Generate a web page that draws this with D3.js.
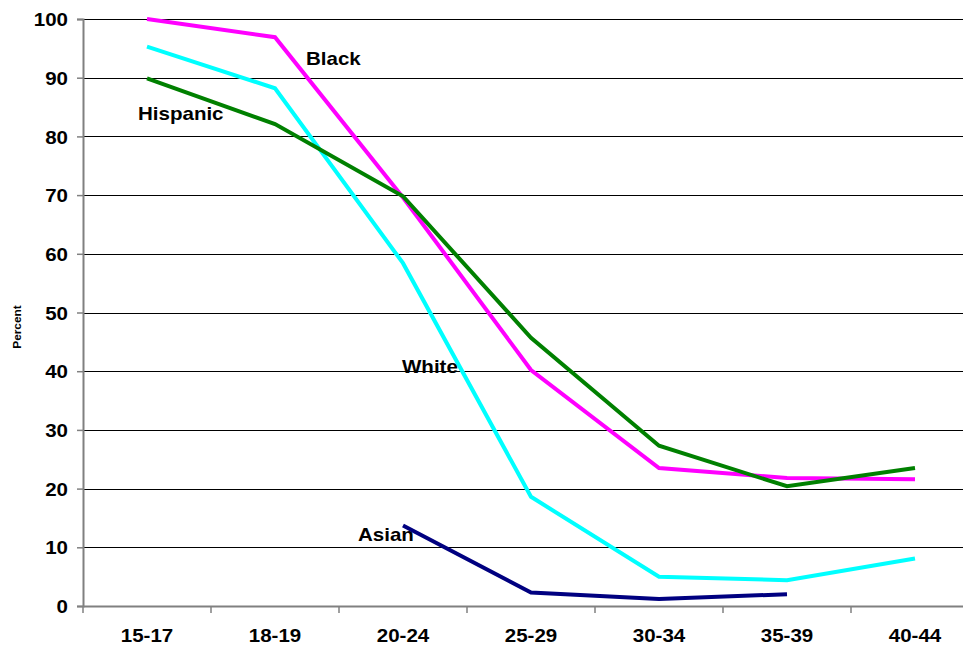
<!DOCTYPE html>
<html>
<head>
<meta charset="utf-8">
<script src="https://cdn.jsdelivr.net/npm/d3@7"></script>
<style>
  html, body { margin: 0; padding: 0; background: #fff; overflow: hidden; }
  svg { display: block; }
  text { font-family: "Liberation Sans", Arial, sans-serif; font-weight: bold; fill: #000; }
</style>
</head>
<body>
<div id="chart"></div>
<script>
const categories = ["15-17", "18-19", "20-24", "25-29", "30-34", "35-39", "40-44"];
const yTicks = [0, 10, 20, 30, 40, 50, 60, 70, 80, 90, 100];
const blackValues = [100, 96.9, 69.6, 40.2, 23.5, 21.8, 21.6];
const hispanicValues = [89.9, 82.1, 69.8, 45.7, 27.3, 20.4, 23.5];
const whiteValues = [95.3, 88.2, 58.4, 18.6, 5.0, 4.4, 8.1];
const asianValues = [null, null, 13.7, 2.3, 1.2, 2.0, null];

const seriesNames = ["Black", "Hispanic", "White", "Asian"];
const seriesColors = ["#FF00FF", "#008000", "#00FFFF", "#000080"];
const seriesValues = [blackValues, hispanicValues, whiteValues, asianValues];
const seriesLabelAt = [
  {cat: "18-19", dx: 31, val: 93.3},
  {cat: "15-17", dx: -9, val: 84.0},
  {cat: "20-24", dx: -1, val: 40.8},
  {cat: "20-24", dx: -45, val: 12.2}
];
const drawOrder = [2, 0, 1, 3];

const W = 963, H = 650;
const mLeft = 83, mTop = 19, plotW = 896, mBottom = 606;

const svg = d3.select("#chart").append("svg").attr("width", W).attr("height", H);

const x = d3.scaleBand().domain(categories).range([mLeft, mLeft + plotW]);
const y = d3.scaleLinear().domain([0, 100]).range([mBottom, mTop]);

// gridlines
svg.append("g").selectAll("line").data(yTicks.filter(d => d > 0)).join("line")
  .attr("x1", mLeft).attr("x2", W)
  .attr("y1", d => Math.round(y(d)) + 0.5).attr("y2", d => Math.round(y(d)) + 0.5)
  .attr("stroke", "#000").attr("stroke-width", 1);

// y axis
const yAxis = d3.axisLeft(y).tickValues(yTicks).tickSize(6).tickPadding(9);
const gy = svg.append("g").attr("transform", `translate(${mLeft},0)`).call(yAxis);
gy.select(".domain").attr("stroke", "#808080").attr("stroke-width", 2);
gy.selectAll(".tick line").attr("stroke", "#808080").attr("stroke-width", 1.5);
gy.selectAll(".tick text").style("font-size", "19px").attr("dy", "0.35em");

// x axis
const xAxis = d3.axisBottom(x).tickSize(0).tickPadding(23);
const gx = svg.append("g").attr("transform", `translate(0,${mBottom})`).call(xAxis);
gx.select(".domain").attr("stroke", "#808080").attr("stroke-width", 2);
gx.selectAll(".tick text").style("font-size", "19px");
// category boundary ticks
const boundaries = categories.map(c => x(c)).concat([mLeft + plotW]);
svg.append("g").selectAll("line").data(boundaries).join("line")
  .attr("x1", d => d).attr("x2", d => d)
  .attr("y1", mBottom).attr("y2", mBottom + 7)
  .attr("stroke", "#808080").attr("stroke-width", 1.5);

// lines
const line = d3.line()
  .defined(d => d.v !== null)
  .x(d => x(d.c) + x.bandwidth() / 2)
  .y(d => y(d.v));

drawOrder.forEach(i => {
  const data = categories.map((c, k) => ({c: c, v: seriesValues[i][k]}));
  svg.append("path").datum(data)
    .attr("d", line)
    .attr("fill", "none")
    .attr("stroke", seriesColors[i])
    .attr("stroke-width", 4)
    .attr("stroke-linejoin", "miter");
});

// series labels
seriesNames.forEach((n, i) => {
  const p = seriesLabelAt[i];
  svg.append("text")
    .attr("x", x(p.cat) + x.bandwidth() / 2 + p.dx)
    .attr("y", y(p.val))
    .attr("dy", "0.35em")
    .style("font-size", "19px")
    .text(n);
});

// y title
svg.append("text")
  .attr("transform", `translate(21,327) rotate(-90)`)
  .attr("text-anchor", "middle")
  .style("font-size", "11px")
  .text("Percent");

// slightly widen glyphs to match the reference's wide bold face
svg.selectAll("text").each(function() {
  const w = this.getComputedTextLength();
  if (w > 0) {
    d3.select(this).attr("textLength", w * 1.08).attr("lengthAdjust", "spacingAndGlyphs");
  }
});
</script>
</body>
</html>
